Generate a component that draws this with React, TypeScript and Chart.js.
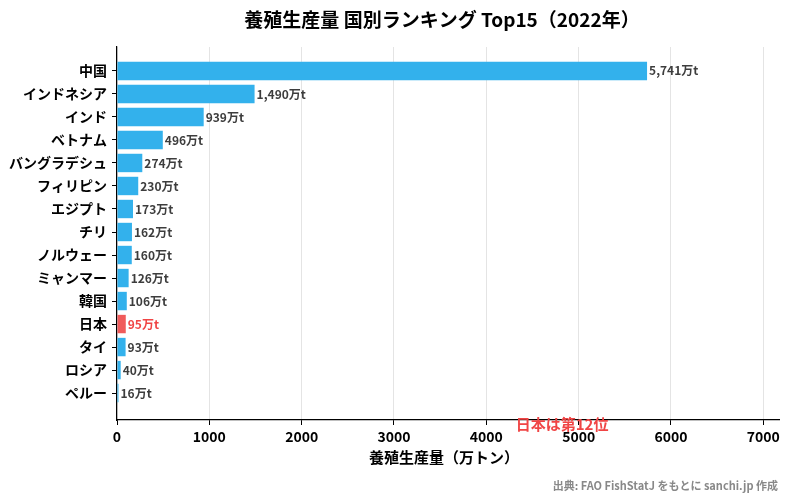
import { useEffect, useRef } from 'react';
import Chart from 'chart.js/auto';

const countries = [
  '中国', 'インドネシア', 'インド', 'ベトナム', 'バングラデシュ', 'フィリピン', 'エジプト',
  'チリ', 'ノルウェー', 'ミャンマー', '韓国', '日本', 'タイ', 'ロシア', 'ペルー',
];
const production = [5741, 1490, 939, 496, 274, 230, 173, 162, 160, 126, 106, 95, 93, 40, 16];
const xTicks = [0, 1000, 2000, 3000, 4000, 5000, 6000, 7000];
const highlight = '日本';

const FONT = '"Noto Sans CJK JP", "Noto Sans", sans-serif';
const BLUE = '#33b1ec';
const RED = '#f05b5b';
const RED_TEXT = '#f04545';

export default function App() {
  const canvasRef = useRef<HTMLCanvasElement | null>(null);
  const chartRef = useRef<Chart | null>(null);

  useEffect(() => {
    if (!canvasRef.current) return;
    const ctx = canvasRef.current.getContext('2d');
    if (!ctx) return;

    const extras = {
      id: 'extras',
      afterDraw(chart: any) {
        const c = chart.ctx;
        const area = chart.chartArea;
        const xs = chart.scales.x;
        c.save();
        // value labels
        const meta = chart.getDatasetMeta(0);
        c.font = `bold 12px ${FONT}`;
        c.textBaseline = 'middle';
        c.textAlign = 'left';
        meta.data.forEach((bar: any, i: number) => {
          c.fillStyle = countries[i] === highlight ? RED_TEXT : '#3d3d3d';
          c.fillText(production[i].toLocaleString('en-US') + '万t', bar.x + 2, bar.y);
        });
        // title
        c.fillStyle = '#000';
        c.textAlign = 'center';
        c.font = `bold 19px ${FONT}`;
        c.fillText('養殖生産量 国別ランキング Top15（2022年）', (area.left + area.right) / 2 - 6, 20);
        // axis title
        c.font = `bold 15px ${FONT}`;
        c.fillText('養殖生産量（万トン）', (area.left + area.right) / 2 - 4, area.bottom + 37);
        // annotation
        const rank = countries.indexOf(highlight) + 1;
        c.fillStyle = RED_TEXT;
        c.font = `bold 15px ${FONT}`;
        c.fillText(`日本は第${rank}位`, xs.getPixelForValue(4820), area.bottom + 4);
        // source
        c.fillStyle = '#888';
        c.textAlign = 'right';
        c.font = `bold 11px ${FONT}`;
        c.fillText('出典: FAO FishStatJ をもとに sanchi.jp 作成', chart.width - 19, 486);
        c.restore();
      },
    };

    chartRef.current = new Chart(ctx, {
      type: 'bar',
      data: {
        datasets: [
          {
            data: production.map((v, i) => ({ x: v, y: i })),
            backgroundColor: countries.map((c) => (c === highlight ? RED : BLUE)),
            barPercentage: 0.8,
            categoryPercentage: 1,
          },
        ],
      },
      options: {
        indexAxis: 'y',
        animation: false,
        responsive: false,
        devicePixelRatio: 1,
        layout: { padding: { top: 47, right: 18, left: 0, bottom: 0 } },
        plugins: { legend: { display: false }, tooltip: { enabled: false }, title: { display: false } },
        scales: {
          x: {
            type: 'linear',
            min: 0,
            max: 7170,
            z: 1,
            afterBuildTicks: (s: any) => {
              s.ticks = xTicks.map((v) => ({ value: v }));
            },
            afterFit: (s: any) => {
              s.height = 83;
            },
            grid: { color: '#e4e4e4', tickColor: '#000', tickLength: 5, lineWidth: 1 },
            border: { display: true, color: '#000', width: 1.2 },
            ticks: {
              color: '#000',
              font: { family: FONT, size: 14, weight: 'bold' },
              padding: 3,
              maxRotation: 0,
              callback: (v: any) => String(v),
            },
          },
          y: {
            type: 'linear',
            reverse: true,
            offset: false,
            min: -1.04,
            max: 15.17,
            afterBuildTicks: (s: any) => {
              s.ticks = countries.map((_, i) => ({ value: i }));
            },
            afterFit: (s: any) => {
              s.width = 117;
            },
            grid: { offset: false, drawOnChartArea: false, tickColor: '#000', tickLength: 5 },
            border: { display: true, color: '#000', width: 1.2 },
            ticks: {
              color: '#000',
              font: { family: FONT, size: 14, weight: 'bold' },
              padding: 5,
              autoSkip: false,
              callback: (v: any) => countries[v as number] ?? '',
            },
          },
        },
      },
      plugins: [extras],
    });

    return () => {
      chartRef.current?.destroy();
    };
  }, []);

  return (
    <div style={{ position: 'fixed', left: 0, top: 0, width: 797, height: 503, background: '#fff' }}>
      <canvas ref={canvasRef} width={797} height={503} style={{ width: 797, height: 503 }}></canvas>
    </div>
  );
}
